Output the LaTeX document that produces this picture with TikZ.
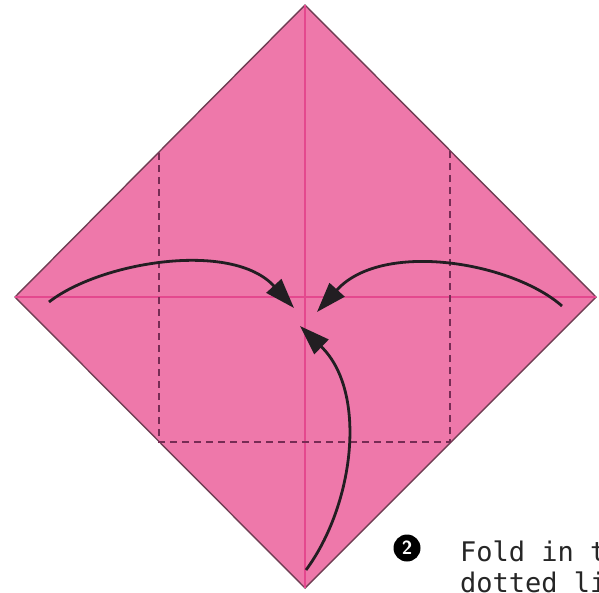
\documentclass[tikz,border=0pt]{standalone}
\usepackage{fontspec}
\newfontfamily\letramono{DejaVu Sans Mono}
\usetikzlibrary{arrows.meta}
\definecolor{papel}{RGB}{238,120,170}
\definecolor{pliegue}{RGB}{228,72,142}
\definecolor{borde}{RGB}{112,62,84}
\definecolor{punteado}{RGB}{118,44,84}
\definecolor{flecha}{RGB}{34,30,34}
\tikzset{
  flechita/.style={flecha, line width=2.8pt, -{Triangle[length=30pt,width=20pt]}},
  doblez/.style={punteado, line width=1.6pt, dash pattern=on 7pt off 5pt},
}

\begin{document}
\begin{tikzpicture}[x=1pt, y=-1pt]
    \useasboundingbox (0,0) rectangle (599,592);
    \clip (0,0) rectangle (599,592);
    % Vértices del papel (cuadrado girado 45°)
    \coordinate (N) at (305,5);
    \coordinate (O) at (15,297);
    \coordinate (E) at (596,297);
    \coordinate (S) at (305,588);
    % Papel
    \draw[borde, line width=1.4pt, fill=papel] (N) -- (E) -- (S) -- (O) -- cycle;
    % Pliegues de las diagonales
    \draw[pliegue, line width=1.4pt] (N) -- (S);
    \draw[pliegue, line width=1.4pt] (O) -- (E);
    % Líneas de doblez (punteadas): esquinas izquierda, derecha e inferior al centro
    \draw[doblez] (159,153) -- (159,442) -- (450,442) -- (450,151);
    % Flechas hacia el centro
    \coordinate (iniO) at (49,302);
    \coordinate (finO) at (294,308);
    \coordinate (iniE) at (562,306);
    \coordinate (finE) at (317,312);
    \coordinate (iniS) at (306,570);
    \coordinate (finS) at (300,326);
    \draw[flechita] (iniO) .. controls (100,262) and (232,240) .. (finO);
    \draw[flechita] (iniE) .. controls (512,262) and (382,240) .. (finE);
    \draw[flechita] (iniS) .. controls (354,505) and (368,392) .. (finS);
    % Paso 2
    \node[circle, fill=black, text=white, inner sep=0pt, minimum size=27pt,
          font=\sffamily\bfseries\fontsize{19}{19}\selectfont] (paso) at (407,548) {2};
    \node[anchor=base west, inner sep=0pt, text=black!85,
          font=\letramono\fontsize{27}{27}\selectfont] (linea1) at (460,561) {Fold in t};
    \node[anchor=base west, inner sep=0pt, text=black!85,
          font=\letramono\fontsize{27}{27}\selectfont] (linea2) at (460,592) {dotted li};
\end{tikzpicture}
\end{document}
